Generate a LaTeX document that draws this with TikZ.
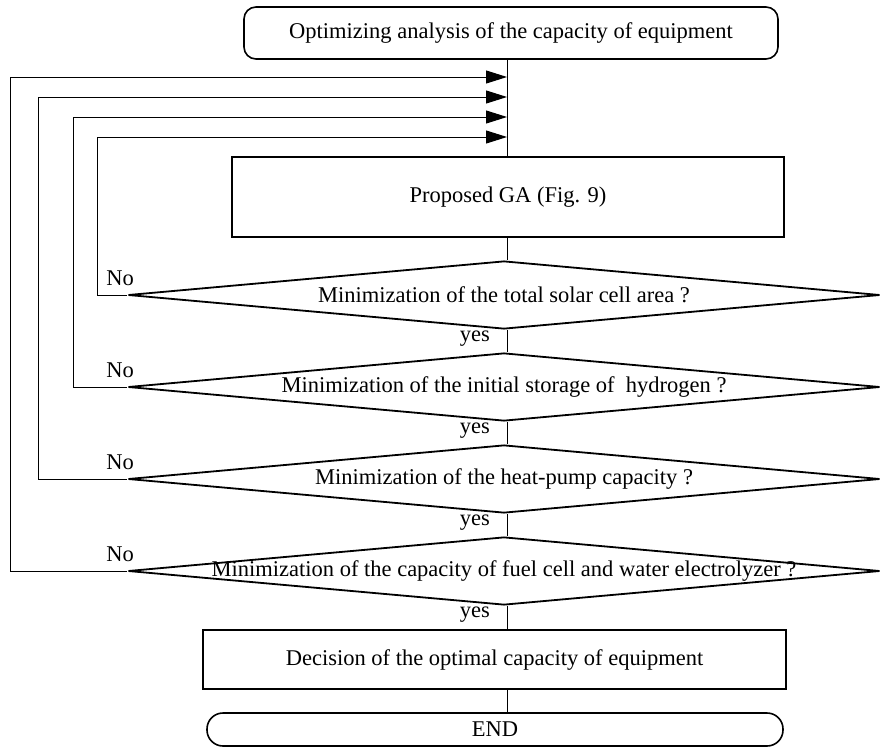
\documentclass[tikz,border=0pt]{standalone}
\usepackage{fontspec}
\setmainfont{Liberation Serif}
\usetikzlibrary{shapes.geometric,arrows.meta}
\tikzset{every node/.style={font=\fontsize{22.5}{27}\selectfont, inner sep=0pt},
  box/.style={draw, line width=1.8pt},
  term/.style={draw, line width=1.6pt, rounded corners=12pt},
  decide/.style={draw, diamond, line width=1.8pt, minimum width=752pt, minimum height=68pt},
  flow/.style={line width=1pt},
  back/.style={line width=1pt, -{Triangle[length=21pt,width=13pt]}}}

\begin{document}
\begin{tikzpicture}[x=1pt,y=-1pt]
   \useasboundingbox (0,0) rectangle (880,747);
   \coordinate (spine) at (507,0);
   \node[term, minimum width=534pt, minimum height=52pt] (start) at (511,33) {Optimizing analysis of the capacity of equipment};
   \node[box, minimum width=552pt, minimum height=80pt] (ga) at (508,197) {Proposed GA (Fig. 9)};
   \node[decide, label=center:{Minimization of the total solar cell area ?}] (d1) at (504,295) {};
   \node[decide, label=center:{Minimization of the initial storage of~~hydrogen ?}] (d2) at (504,387) {};
   \node[decide, label=center:{Minimization of the heat-pump capacity ?}] (d3) at (504,479) {};
   \node[decide, label=center:{Minimization of the capacity of fuel cell and water electrolyzer ?}] (d4) at (504,571) {};
   \node[box, minimum width=583pt, minimum height=59pt] (dec) at (494.5,659.5) {Decision of the optimal capacity of equipment};
   \node[term, rounded corners=16pt, minimum width=576pt, minimum height=33pt] (end) at (495,729.5) {END};

   \draw[flow] (spine |- start.south) -- (spine |- ga.north);
   \draw[flow] (spine |- ga.south) -- (spine |- d1.north);
   \draw[flow] (spine |- d1.south) -- (spine |- d2.north);
   \draw[flow] (spine |- d2.south) -- (spine |- d3.north);
   \draw[flow] (spine |- d3.south) -- (spine |- d4.north);
   \draw[flow] (spine |- d4.south) -- (spine |- dec.north);
   \draw[flow] (spine |- dec.south) -- (spine |- end.north);

   \foreach \i/\xx/\yy in {1/97/137, 2/73/117, 3/38/97, 4/10/77} {
     \coordinate (r\i) at (\xx,\yy);
     \draw[back] (d\i.west) -| (r\i) -- (spine |- r\i);
     \node[anchor=base] (no\i) at ([xshift=-7pt,yshift=10pt]d\i.west) {No};
     \path (spine |- d\i.south) ++(-17pt,-12pt) node[anchor=base east] (yes\i) {yes};
   }
\end{tikzpicture}
\end{document}
